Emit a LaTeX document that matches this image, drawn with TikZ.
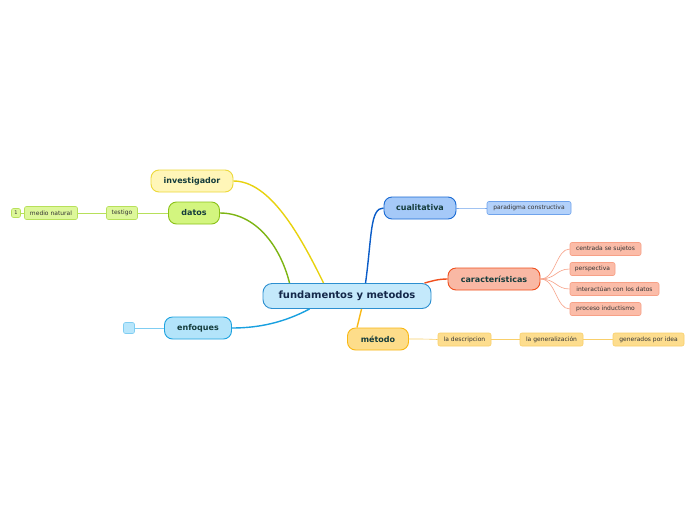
\documentclass[tikz,border=0pt]{standalone}
\usepackage{fontspec}
\setmainfont{DejaVu Sans}
\usetikzlibrary{calc}
\definecolor{txt}{HTML}{143C3C}
\definecolor{ctxt}{HTML}{14284A}
\definecolor{cfill}{HTML}{C4E9FB}\definecolor{cdraw}{HTML}{2C8FD0}
\definecolor{yfill}{HTML}{FFF6B8}\definecolor{ydraw}{HTML}{EDD93A}\definecolor{yline}{HTML}{E8D20E}
\definecolor{gfill}{HTML}{D3F57F}\definecolor{gdraw}{HTML}{8CC21A}\definecolor{gline}{HTML}{7DB513}
\definecolor{gsfill}{HTML}{DDF79A}\definecolor{gsdraw}{HTML}{B7E05A}
\definecolor{bfill}{HTML}{B3E4FA}\definecolor{bdraw}{HTML}{1EA3E0}\definecolor{bline}{HTML}{18A0E0}
\definecolor{bsfill}{HTML}{B8E6FB}\definecolor{bsdraw}{HTML}{7FCDF2}
\definecolor{qfill}{HTML}{A5C9F8}\definecolor{qdraw}{HTML}{1A6BD4}\definecolor{qline}{HTML}{0A5CC8}
\definecolor{qsfill}{HTML}{B3D1FA}\definecolor{qsdraw}{HTML}{6FA3EC}
\definecolor{rfill}{HTML}{F9B8A4}\definecolor{rdraw}{HTML}{F0501E}\definecolor{rline}{HTML}{F0501E}
\definecolor{rsfill}{HTML}{FBBCA8}\definecolor{rsdraw}{HTML}{F7A086}
\definecolor{ofill}{HTML}{FDDD8A}\definecolor{odraw}{HTML}{F9B814}\definecolor{oline}{HTML}{F9B814}
\definecolor{osfill}{HTML}{FDDD8E}\definecolor{osdraw}{HTML}{F9CF6A}
\tikzset{
  topic/.style={draw, line width=0.9pt, rounded corners=8pt, font=\bfseries\fontsize{8}{9}\selectfont, text=txt, inner sep=0pt, minimum height=22pt},
  sub/.style={draw, line width=0.6pt, rounded corners=2pt, font=\fontsize{6}{7}\selectfont, text=black!80, inner sep=0pt, minimum height=13pt},
  mainln/.style={line width=1.4pt},
  subln/.style={line width=0.6pt},
}
\begin{document}
\begin{tikzpicture}[x=1pt,y=-1pt]
\useasboundingbox[fill=white] (0,0) rectangle (696,520);
% central
\node[draw=cdraw, fill=cfill, line width=0.9pt, rounded corners=9pt, minimum width=168pt, minimum height=25pt, inner sep=0pt, font=\bfseries\fontsize{10}{12}\selectfont, text=ctxt] (c) at (347,296) {fundamentos y metodos};
% topics
\node[topic, fill=yfill, draw=ydraw, minimum width=82pt] (inv) at (192,181) {investigador};
\node[topic, fill=gfill, draw=gdraw, minimum width=51pt] (dat) at (194,213) {datos};
\node[topic, fill=bfill, draw=bdraw, minimum width=67pt] (enf) at (198,328) {enfoques};
\node[topic, fill=qfill, draw=qdraw, minimum width=72pt] (cua) at (420,208) {cualitativa};
\node[topic, fill=rfill, draw=rdraw, minimum width=92pt] (car) at (494,279) {características};
\node[topic, fill=ofill, draw=odraw, minimum width=61pt] (met) at (378,339) {método};
% subs
\node[sub, fill=gsfill, draw=gsdraw, minimum width=31pt] (tes) at (122,213) {testigo};
\node[sub, fill=gsfill, draw=gsdraw, minimum width=53pt] (med) at (51,213) {medio natural};
\node[sub, fill=gsfill, draw=gsdraw, minimum width=9pt, minimum height=9pt, font=\fontsize{5}{6}\selectfont] (one) at (16,213) {1};
\node[sub, fill=bsfill, draw=bsdraw, minimum width=11pt, minimum height=11pt] (emp) at (129,328) {};
\node[sub, fill=qsfill, draw=qsdraw, minimum width=84pt] (par) at (529,208) {paradigma constructiva};
\node[sub, fill=rsfill, draw=rsdraw, minimum width=71pt] (r1) at (605.5,249) {centrada se sujetos};
\node[sub, fill=rsfill, draw=rsdraw, minimum width=45pt] (r2) at (592.5,269) {perspectiva};
\node[sub, fill=rsfill, draw=rsdraw, minimum width=89pt] (r3) at (614.5,289) {interactúan con los datos};
\node[sub, fill=rsfill, draw=rsdraw, minimum width=71pt] (r4) at (605.5,309) {proceso inductismo};
\node[sub, fill=osfill, draw=osdraw, minimum width=53pt] (m1) at (464.5,339.5) {la descripcion};
\node[sub, fill=osfill, draw=osdraw, minimum width=63pt] (m2) at (551.5,339.5) {la generalización};
\node[sub, fill=osfill, draw=osdraw, minimum width=71pt] (m3) at (648.5,339.5) {generados por idea};
% main connectors
\draw[mainln, gline] ($(c.north west)+(27,0)$) .. controls (280,245) and (255,213) .. (dat.east);
\draw[mainln, yline] ($(c.north west)+(61,0)$) .. controls (300,235) and (270,181) .. (inv.east);
\draw[mainln, qline] ($(c.north west)+(103,0)$) .. controls (372,235) and (370,208) .. (cua.west);
\draw[mainln, rline] ($(c.north east)+(-7,0)$) .. controls (432,281) and (438,279) .. (car.west);
\draw[mainln, bline] ($(c.south west)+(47,0)$) .. controls (285,322) and (260,328) .. (enf.east);
\draw[mainln, oline] ($(c.south west)+(99,0)$) .. controls (360,318) .. (met.north west -| 357,0);
% sub connectors
\draw[subln, gsdraw] (dat.west) -- (tes.east);
\draw[subln, gsdraw] (tes.west) -- (med.east);
\draw[subln, gsdraw] (med.west) -- (one.east);
\draw[subln, bsdraw] (enf.west) -- (emp.east);
\draw[subln, qsdraw] (cua.east) .. controls (470,208) .. (par.west);
\draw[subln, rsdraw] (car.east) .. controls (556,279) and (556,249) .. (r1.west);
\draw[subln, rsdraw] (car.east) .. controls (556,279) and (556,269) .. (r2.west);
\draw[subln, rsdraw] (car.east) .. controls (556,279) and (556,289) .. (r3.west);
\draw[subln, rsdraw] (car.east) .. controls (556,279) and (556,309) .. (r4.west);
\draw[subln, osdraw] (met.east) .. controls (425,339) .. (m1.west);
\draw[subln, osdraw] (m1.east) -- (m2.west);
\draw[subln, osdraw] (m2.east) -- (m3.west);
\end{tikzpicture}
\end{document}
